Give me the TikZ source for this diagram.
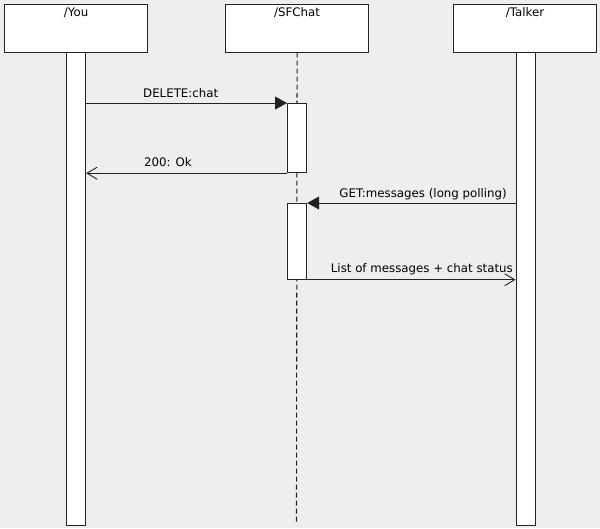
\documentclass[tikz,border=0pt]{standalone}
\usepackage{fontspec}
\setmainfont{DejaVu Sans}
\usetikzlibrary{arrows.meta}
\definecolor{bg}{HTML}{EEEEEE}
\definecolor{ln}{HTML}{222222}
\begin{document}
\begin{tikzpicture}[x=1pt,y=-1pt,
  font=\fontsize{11.8}{14}\selectfont,
  actorbox/.style={draw=ln, fill=white, line width=1.2pt, minimum width=143pt, minimum height=47.5pt, inner sep=0pt, anchor=north west},
  lifebar/.style={draw=ln, fill=white, line width=1.2pt, minimum width=19pt, inner sep=0pt, anchor=north west},
  lbl/.style={inner sep=0pt, text=black},
  sync/.style={draw=ln, line width=1pt, -{Triangle[length=12pt,width=13pt]}},
  reply/.style={draw=ln, line width=1pt, -{Straight Barb[length=10pt,width=12pt,line width=0.9pt]}},
  life/.style={draw=ln, line width=1.1pt, dash pattern=on 5pt off 3pt}]
\fill[bg] (0,0) rectangle (600,528);
\useasboundingbox (0,0) rectangle (600,528);
% actor boxes
\node[actorbox] (you) at (4,4) {};
\node[actorbox] (sfc) at (225,4) {};
\node[actorbox] (tlk) at (453,4) {};
\node[lbl, anchor=base] (youlbl) at ([yshift=-12pt]you.north) {/You};
\node[lbl, anchor=base] (sfclbl) at ([yshift=-12pt]sfc.north) {/SFChat};
\node[lbl, anchor=base] (tlklbl) at ([yshift=-12pt]tlk.north) {/Talker};
% lifelines
\node[lifebar, minimum height=473.5pt] (youbar) at (66,51.5) {};
\node[lifebar, minimum height=473.5pt] (tlkbar) at (515.5,51.5) {};
\coordinate (sfcend) at (296.5,522);
\draw[life] (sfc.south) -- (sfcend);
% activations
\node[lifebar, minimum height=69pt] (act1) at (287,103) {};
\node[lifebar, minimum height=75.5pt] (act2) at (287,203) {};
% messages
\draw[sync] (youbar.east |- act1.north) -- (act1.north west);
\node[lbl, anchor=base west] (m1) at (143,97) {DELETE:chat};
\draw[reply] (act1.south west) -- (youbar.east |- act1.south);
\node[lbl, anchor=base west] (m2) at (144,166.5) {200: Ok};
\draw[sync] (tlkbar.west |- act2.north) -- (act2.north east);
\node[lbl, anchor=base east] (m3) at (507,197) {GET:messages (long polling)};
\draw[reply] (act2.south east) -- (tlkbar.west |- act2.south);
\node[lbl, anchor=base east] (m4) at (513,272) {List of messages + chat status};
\end{tikzpicture}
\end{document}
